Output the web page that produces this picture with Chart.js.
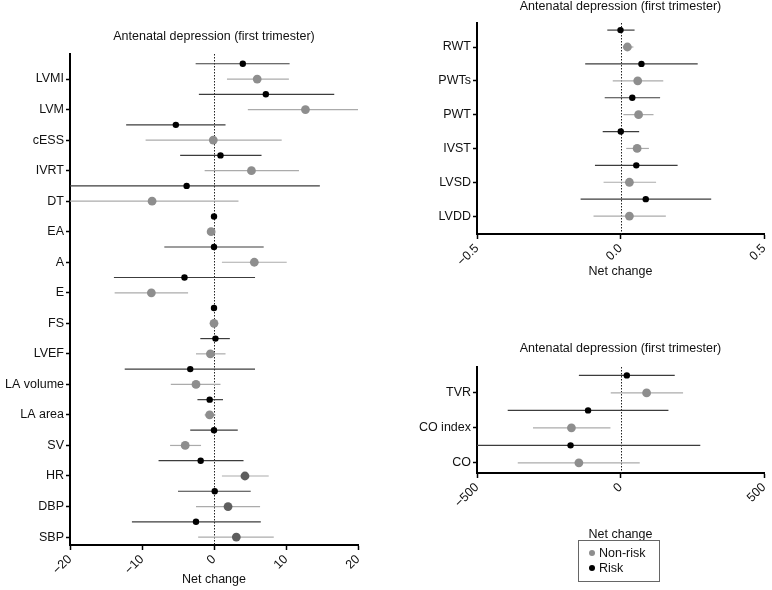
<!DOCTYPE html>
<html>
<head>
  <script src="https://cdn.jsdelivr.net/npm/chart.js@4"></script>
  <style>
    body { margin: 0; background: #fff; }
    #wrap { position: relative; width: 772px; height: 590px; font-family: "Liberation Sans", Arial, sans-serif; }
    canvas { position: absolute; }
    #legend { position: absolute; left: 578px; top: 540px; width: 80px; height: 40px; border: 1px solid #666; font-size: 12.5px; color: #111; }
    #legend div { position: absolute; left: 10px; line-height: 14px; }
    #legend span { display: inline-block; border-radius: 50%; margin-right: 4px; vertical-align: 1px; }
  </style>
</head>
<body>
  <div id="wrap">
    <canvas id="c1" style="left:0;top:0" width="380" height="590"></canvas>
    <canvas id="c2" style="left:390px;top:0" width="382" height="282"></canvas>
    <canvas id="c3" style="left:390px;top:330px" width="382" height="215"></canvas>
    <div id="legend">
      <div style="top:5px"><span style="width:6px;height:6px;background:#8e8e8e"></span>Non-risk</div>
      <div style="top:20px"><span style="width:6px;height:6px;background:#000"></span>Risk</div>
    </div>
  </div>
  <script>
    const title = 'Antenatal depression (first trimester)';

    // left panel
    const cats1 = ['LVMI', 'LVM', 'cESS', 'IVRT', 'DT', 'EA', 'A', 'E', 'FS', 'LVEF', 'LA volume', 'LA area', 'SV', 'HR', 'DBP', 'SBP'];
    const non1Est = [6.0, 12.7, -0.1, 5.2, -8.6, -0.4, 5.6, -8.7, 0, -0.5, -2.5, -0.6, -4.0, 4.3, 1.95, 3.1];
    const non1Lo = [1.8, 4.7, -9.5, -1.3, -21, -0.6, 1.1, -13.8, -0.1, -2.5, -6.0, -1.3, -6.1, 1.1, -2.5, -2.2];
    const non1Hi = [10.4, 20, 9.4, 11.8, 3.4, -0.2, 10.1, -3.6, 0.1, 1.6, 0.9, 0.2, -1.8, 7.6, 6.4, 8.3];
    const risk1Est = [4.0, 7.2, -5.3, 0.9, -3.8, 0, 0, -4.1, 0, 0.2, -3.3, -0.6, 0, -1.85, 0.1, -2.5];
    const risk1Lo = [-2.55, -2.1, -12.2, -4.7, -21, -0.1, -6.9, -13.9, -0.1, -1.9, -12.4, -2.3, -3.3, -7.7, -5.0, -11.4];
    const risk1Hi = [10.5, 16.7, 1.6, 6.6, 14.7, 0.1, 6.9, 5.7, 0.1, 2.2, 5.7, 1.25, 3.3, 4.1, 5.1, 6.5];

    // upper right panel
    const cats2 = ['RWT', 'PWTs', 'PWT', 'IVST', 'LVSD', 'LVDD'];
    const non2Est = [0.024, 0.060, 0.063, 0.058, 0.031, 0.031];
    const non2Lo = [0.008, -0.027, 0.010, 0.020, -0.059, -0.094];
    const non2Hi = [0.045, 0.149, 0.115, 0.099, 0.124, 0.158];
    const risk2Est = [0.0, 0.073, 0.041, 0.001, 0.055, 0.088];
    const risk2Lo = [-0.046, -0.123, -0.055, -0.062, -0.089, -0.139];
    const risk2Hi = [0.049, 0.269, 0.138, 0.065, 0.199, 0.316];

    // lower right panel
    const cats3 = ['TVR', 'CO index', 'CO'];
    const non3Est = [91, -171, -145];
    const non3Lo = [-34, -305, -358];
    const non3Hi = [218, -35, 67];
    const risk3Est = [22, -113, -174];
    const risk3Lo = [-145, -393, -520];
    const risk3Hi = [189, 167, 278];

    const FONT = '"Liberation Sans", Arial, sans-serif';

    const forestPlugin = {
      id: 'forest',
      beforeDatasetsDraw(chart) {
        const { ctx, chartArea: a, scales: { x, y } } = chart;
        ctx.save();
        ctx.beginPath();
        ctx.rect(a.left, a.top, a.right - a.left, a.bottom - a.top);
        ctx.clip();
        // zero line
        const x0 = Math.round(x.getPixelForValue(0)) + 0.5;
        ctx.setLineDash([1.5, 1.5]);
        ctx.strokeStyle = '#222';
        ctx.lineWidth = 1;
        ctx.beginPath();
        ctx.moveTo(x0, a.top);
        ctx.lineTo(x0, a.bottom);
        ctx.stroke();
        ctx.setLineDash([]);
        // error bars
        chart.data.datasets.forEach(ds => {
          ctx.strokeStyle = ds.barColor;
          ctx.lineWidth = 1.2;
          ds.data.forEach(p => {
            const py = y.getPixelForValue(p.y);
            ctx.beginPath();
            ctx.moveTo(x.getPixelForValue(p.lo), py);
            ctx.lineTo(x.getPixelForValue(p.hi), py);
            ctx.stroke();
          });
        });
        ctx.restore();
      },
      afterDraw(chart, args, opts) {
        const { ctx, chartArea: a } = chart;
        ctx.save();
        ctx.font = '12.5px ' + FONT;
        ctx.fillStyle = '#111';
        ctx.textAlign = 'center';
        ctx.textBaseline = 'middle';
        ctx.fillText(title, (a.left + a.right) / 2, a.top - opts.titleGap);
        ctx.restore();
      }
    };

    function makeForest(id, p) {
      const pts = (est, lo, hi, off) => est.map((v, i) => ({ x: v, y: i + off, lo: lo[i], hi: hi[i] }));
      new Chart(document.getElementById(id), {
        type: 'scatter',
        data: {
          datasets: [
            {
              label: 'Non-risk',
              data: pts(p.nonEst, p.nonLo, p.nonHi, 0),
              barColor: '#ababab',
              pointRadius: 4.4,
              pointBackgroundColor: p.nonColors || '#8e8e8e',
              pointBorderWidth: 0,
            },
            {
              label: 'Risk',
              data: pts(p.riskEst, p.riskLo, p.riskHi, -0.5),
              barColor: '#3c3c3c',
              pointRadius: 3.2,
              pointBackgroundColor: '#000',
              pointBorderWidth: 0,
            },
          ],
        },
        options: {
          responsive: false,
          animation: false,
          layout: { padding: { top: p.top, right: p.right, left: 0, bottom: 0 } },
          plugins: {
            legend: { display: false },
            tooltip: { enabled: false },
            forest: { titleGap: p.titleGap },
          },
          scales: {
            x: {
              type: 'linear',
              min: p.xMin,
              max: p.xMax,
              afterBuildTicks: s => { s.ticks = p.xTicks.map(v => ({ value: v })); },
              afterFit: s => { s.height = p.xHeight; s.paddingLeft = 0; s.paddingRight = 0; },
              ticks: {
                minRotation: 45,
                maxRotation: 45,
                color: '#111',
                font: { family: FONT, size: 12.5 },
                padding: 2,
                callback: v => p.xFmt(v),
              },
              grid: { drawOnChartArea: false, tickLength: 5, tickWidth: 1.5, tickColor: '#000' },
              border: { color: '#000', width: 2 },
              title: {
                display: true,
                text: 'Net change',
                color: '#111',
                font: { family: FONT, size: 12.5 },
                padding: { top: 0, bottom: 2.5 },
              },
            },
            y: {
              type: 'linear',
              reverse: true,
              min: p.yMin,
              max: p.yMax,
              afterBuildTicks: s => { s.ticks = p.cats.map((_, i) => ({ value: i })); },
              afterFit: s => { s.width = p.yWidth; },
              ticks: {
                color: '#111',
                font: { family: FONT, size: 12.5 },
                padding: 2,
                autoSkip: false,
                callback: v => p.cats[v],
              },
              grid: { drawOnChartArea: false, tickLength: 4, tickWidth: 1.5, tickColor: '#000' },
              border: { color: '#000', width: 2 },
            },
          },
        },
        plugins: [forestPlugin],
      });
    }

    const minus = v => (v < 0 ? '\u2212' : '') + Math.abs(v);

    makeForest('c1', {
      cats: cats1, nonEst: non1Est, nonLo: non1Lo, nonHi: non1Hi,
      riskEst: risk1Est, riskLo: risk1Lo, riskHi: risk1Hi,
      nonColors: cats1.map((c, i) => (i >= 13 ? '#5e5e5e' : '#8e8e8e')),
      xMin: -20, xMax: 20, xTicks: [-20, -10, 0, 10, 20], xFmt: minus,
      yMin: -0.82, yMax: 15.26,
      top: 54, right: 22, yWidth: 70, xHeight: 45, titleGap: 17,
    });

    makeForest('c2', {
      cats: cats2, nonEst: non2Est, nonLo: non2Lo, nonHi: non2Hi,
      riskEst: risk2Est, riskLo: risk2Lo, riskHi: risk2Hi,
      xMin: -0.5, xMax: 0.5, xTicks: [-0.5, 0, 0.5],
      xFmt: v => (v < 0 ? '\u2212' : '') + Math.abs(v).toFixed(1),
      yMin: -0.71, yMax: 5.53,
      top: 23, right: 8, yWidth: 87, xHeight: 48, titleGap: 16,
    });

    makeForest('c3', {
      cats: cats3, nonEst: non3Est, nonLo: non3Lo, nonHi: non3Hi,
      riskEst: risk3Est, riskLo: risk3Lo, riskHi: risk3Hi,
      xMin: -500, xMax: 500, xTicks: [-500, 0, 500], xFmt: minus,
      yMin: -0.74, yMax: 2.29,
      top: 37, right: 8, yWidth: 87, xHeight: 72, titleGap: 18,
    });
  </script>
</body>
</html>
